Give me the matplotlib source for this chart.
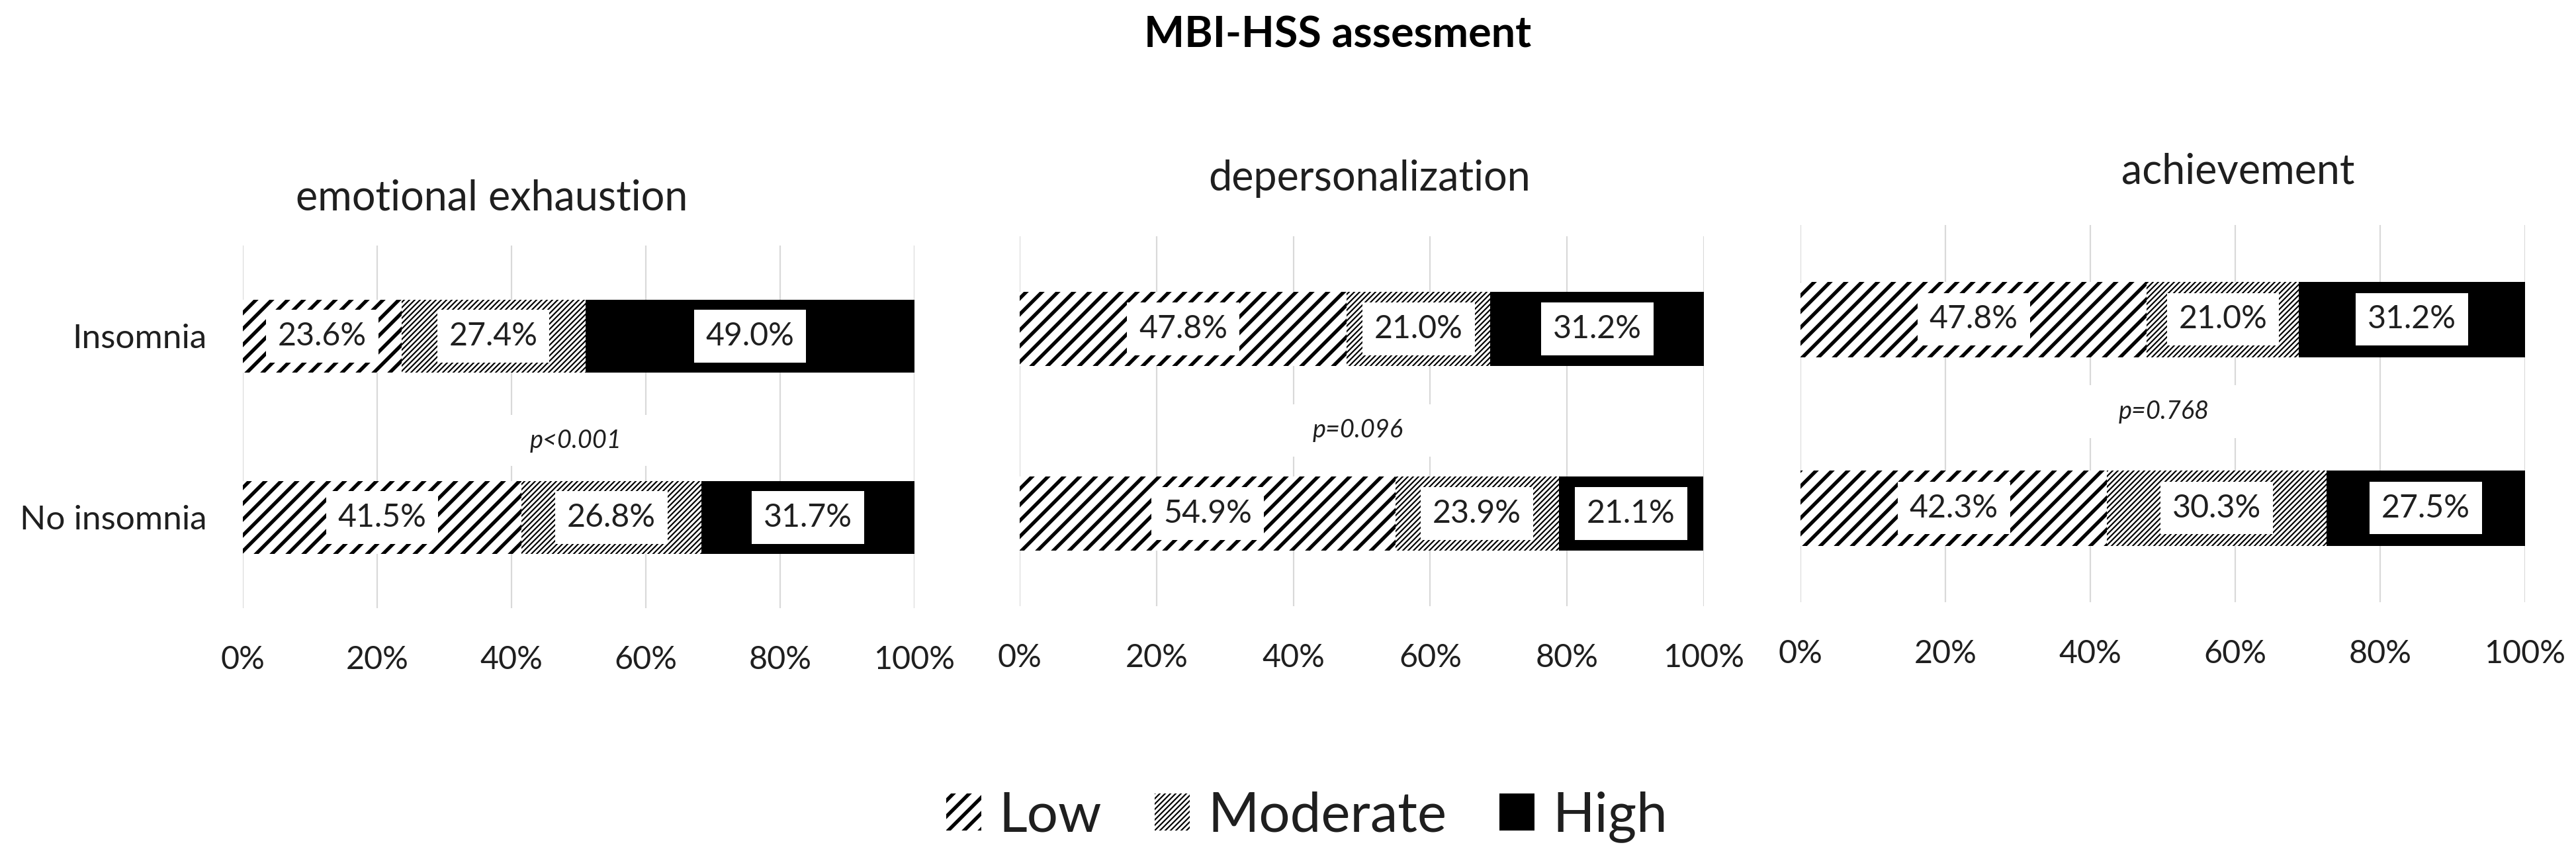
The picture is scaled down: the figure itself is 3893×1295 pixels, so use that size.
import matplotlib
matplotlib.use("Agg")
import matplotlib.pyplot as plt
from matplotlib.font_manager import FontProperties
from matplotlib.textpath import TextToPath
from matplotlib.patches import Rectangle

# ---------------- data ----------------
groups = ["Insomnia", "No insomnia"]
panel_titles = ["emotional exhaustion", "depersonalization", "achievement"]
levels = ["Low", "Moderate", "High"]

ee_low = [23.6, 41.5]
ee_mod = [27.4, 26.8]
ee_high = [49.0, 31.7]

dp_low = [47.8, 54.9]
dp_mod = [21.0, 23.9]
dp_high = [31.2, 21.1]

ac_low = [47.8, 42.3]
ac_mod = [21.0, 30.3]
ac_high = [31.2, 27.5]

p_values = ["p<0.001", "p=0.096", "p=0.768"]
xticks = [0, 20, 40, 60, 80, 100]
xtick_labels = ["0%", "20%", "40%", "60%", "80%", "100%"]
main_title = "MBI-HSS assesment"

# ---------------- layout ----------------
DPI = 144
W, H = 3893, 1295
FONT = "Lato"
TXT = "#1f1f1f"
plt.rcParams["font.family"] = [FONT, "DejaVu Sans"]
plt.rcParams["hatch.linewidth"] = 2.6

_ttp = TextToPath()


def fit_size(s, target_px, **kw):
    prop = FontProperties(family=FONT, size=100, **kw)
    w, h, d = _ttp.get_text_width_height_descent(s, prop, ismath=False)
    return 100 * target_px / (w * DPI / 72)


def set_hlw(patch, lw):
    if hasattr(patch, "set_hatch_linewidth"):
        patch.set_hatch_linewidth(lw)
    else:
        patch._hatch_linewidth = lw


tick_fs = fit_size("20%", 95)
cat_fs = fit_size("No insomnia", 283)
lab_fs = fit_size("23.6%", 134)
sub_fs = fit_size("emotional exhaustion", 592)
title_fs = fit_size(main_title, 585, weight="bold")
leg_fs = fit_size("Moderate", 361)
p_fs = fit_size("p=0.768", 137, style="italic")

fig = plt.figure(figsize=(W / DPI, H / DPI), dpi=DPI)

# axes boxes in pixels: (left, top, right, bottom)
boxes = [(367, 371, 1382, 919), (1541, 357, 2575, 916), (2721, 340, 3816, 910)]
sub_pos = [(743, 317), (2070, 288), (3382, 277)]
p_pos = [(49.6, 0.575), (49.4, 0.55), (50.2, 0.49)]

series = [
    (ee_low, ee_mod, ee_high),
    (dp_low, dp_mod, dp_high),
    (ac_low, ac_mod, ac_high),
]

hatches = ["//", "//////", None]
hatch_lws = [2.7, 1.1, 1.0]
faces = ["white", "white", "black"]

legend_handles = None
for k, (box, (low, mod, high)) in enumerate(zip(boxes, series)):
    l, t, r, b = box
    ax = fig.add_axes([l / W, 1 - b / H, (r - l) / W, (b - t) / H])
    ax.set_axisbelow(True)
    ypos = list(range(len(groups)))
    lefts = [0.0] * len(groups)
    handles = []
    for vals, hatch, hlw, face, name in zip((low, mod, high), hatches, hatch_lws, faces, levels):
        with plt.rc_context({"hatch.linewidth": hlw}):
            cont = ax.barh(ypos, vals, left=lefts, height=0.4, color=face,
                           edgecolor="black", linewidth=0, hatch=hatch,
                           label=name, zorder=2)
        for p in cont.patches:
            set_hlw(p, hlw)
        handles.append(cont)
        ax.bar_label(cont, labels=[f"{v:.1f}%" for v in vals], label_type="center",
                     fontsize=lab_fs, color=TXT, zorder=5,
                     bbox=dict(boxstyle="square,pad=0.37", fc="white", ec="none"))
        lefts = [a + v for a, v in zip(lefts, vals)]
    if legend_handles is None:
        legend_handles = handles

    ax.set_xlim(0, 100)
    ax.set_ylim(1.5, -0.5)
    ax.set_xticks(xticks, xtick_labels)
    ax.grid(axis="x", color="#D9D9D9", linewidth=1.1)
    ax.grid(axis="y", visible=False)
    for s in ax.spines.values():
        s.set_visible(False)
    ax.tick_params(axis="x", length=0, pad=28, labelsize=tick_fs, labelcolor=TXT)
    if k == 0:
        ax.set_yticks(ypos, groups)
        ax.tick_params(axis="y", length=0, pad=27, labelsize=cat_fs, labelcolor=TXT)
    else:
        ax.set_yticks([])

    # p-value with white box hiding the gridlines behind it
    px, py = p_pos[k]
    ax.add_patch(Rectangle((px - 11, py - 0.14), 22, 0.28, facecolor="white",
                           edgecolor="none", zorder=1))
    ax.text(px, py, p_values[k], ha="center", va="center", fontsize=p_fs,
            style="italic", color=TXT, zorder=3)

    sx, sy = sub_pos[k]
    fig.text(sx / W, 1 - sy / H, panel_titles[k], ha="center", va="baseline",
             fontsize=sub_fs, color=TXT)

fig.text(2022 / W, 1 - 72 / H, main_title, ha="center", va="baseline",
         fontsize=title_fs, weight="bold", color="black")

leg_px = leg_fs * DPI / 72
leg = fig.legend(handles=legend_handles, labels=levels, loc="center",
                 bbox_to_anchor=(1975 / W, 1 - 1234 / H), ncol=3, frameon=False,
                 fontsize=leg_fs, handlelength=53 / leg_px, handleheight=54 / leg_px,
                 handletextpad=27 / leg_px, columnspacing=80 / leg_px, borderpad=0)
for txt in leg.get_texts():
    txt.set_color(TXT)
for patch, hlw in zip(leg.get_patches(), hatch_lws):
    set_hlw(patch, hlw)

fig.savefig("out.png", dpi=DPI, facecolor="white")
